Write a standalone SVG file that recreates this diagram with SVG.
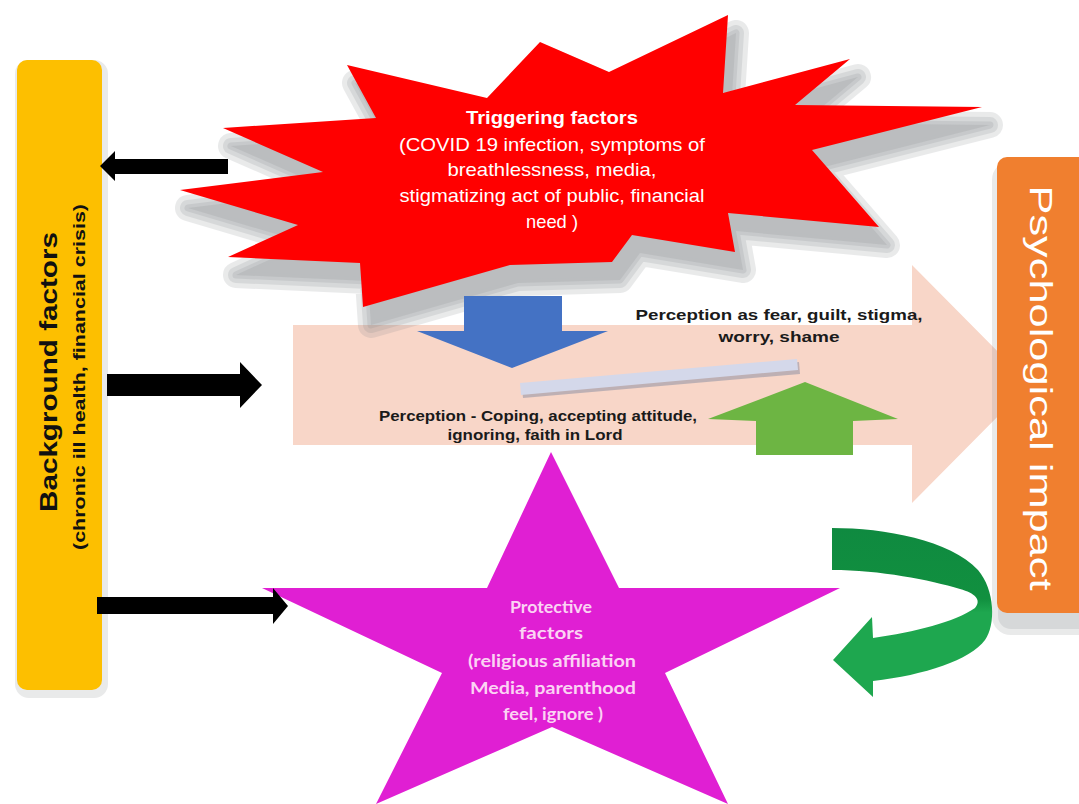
<svg xmlns="http://www.w3.org/2000/svg" width="1079" height="804" viewBox="0 0 1079 804">
<defs>
<style>
.arial{font-family:"Liberation Sans",Arial,sans-serif}
.white{fill:#ffffff}
.bk{fill:#000000}
.pt{font-family:"Liberation Sans",Arial,sans-serif;font-weight:bold;font-size:15px;fill:#1a1a1a;text-anchor:middle}
.st{font-family:"Liberation Sans",Arial,sans-serif;font-size:19px;fill:#ffffff;text-anchor:middle}
.mg{font-family:Lato,"Open Sans",sans-serif;font-weight:bold;font-size:17px;fill:#fbd3f3;text-anchor:middle}
.sh{fill:#7b8085;stroke:#7b8085;stroke-linejoin:round;opacity:0.16}
</style>
<linearGradient id="curl" x1="0" y1="528" x2="0" y2="697" gradientUnits="userSpaceOnUse">
<stop offset="0" stop-color="#0f8a40"/>
<stop offset="0.42" stop-color="#11903f"/>
<stop offset="0.5" stop-color="#1ea74f"/>
<stop offset="1" stop-color="#1ea74f"/>
</linearGradient>
<polygon id="burst" points="728,15 723,93 850,59 795,105 982,107 812,150 879,227 728,213 735,252 632,235 612,262 510,265 363,307 360,263 228,257 298,225 180,190 323,172 223,128 376,118 347,65 487,98 540,42 609,72"/>
</defs>
<rect width="1079" height="804" fill="#ffffff"/>

<g id="perception-arrow">
<polygon points="293,325 912,325 912,265 1030,384 912,503 912,445 293,445" fill="#f8d6c8"/>
</g>

<g id="background-factors">
<rect x="19" y="64" width="85" height="630" rx="10" class="sh" stroke-width="8"/>
<rect x="17" y="60" width="85" height="630" rx="10" fill="#fdbf00"/>
<text class="arial" font-weight="bold" font-size="23" fill="#111" text-anchor="middle" transform="translate(57,372) rotate(-90)" textLength="280" lengthAdjust="spacingAndGlyphs">Background factors</text>
<text class="arial" font-weight="bold" font-size="17" fill="#111" text-anchor="middle" transform="translate(85,377) rotate(-90)" textLength="346" lengthAdjust="spacingAndGlyphs">(chronic ill health, financial crisis)</text>
</g>

<g id="triggering-factors">
<use href="#burst" transform="translate(8,18)" class="sh" stroke-width="26"/>
<use href="#burst" transform="translate(8,18)" class="sh" stroke-width="16"/>
<use href="#burst" transform="translate(8,18)" class="sh" stroke-width="7"/>
<use href="#burst" transform="translate(8,18)" class="sh" stroke-width="0"/>
<use href="#burst" fill="#ff0000"/>
<text class="st" font-weight="bold" font-size="18" x="552" y="124" textLength="172" lengthAdjust="spacingAndGlyphs">Triggering factors</text>
<text class="st" x="552" y="151" textLength="306" lengthAdjust="spacingAndGlyphs">(COVID 19 infection, symptoms of</text>
<text class="st" x="552" y="176" textLength="209" lengthAdjust="spacingAndGlyphs">breathlessness, media,</text>
<text class="st" x="552" y="202" textLength="305" lengthAdjust="spacingAndGlyphs">stigmatizing act of public, financial</text>
<text class="st" x="552" y="228" textLength="52" lengthAdjust="spacingAndGlyphs">need )</text>
</g>

<g id="negative-perception">
<polygon points="464,296 562,296 562,331 608,331 512,368 417,331 464,331" fill="#4472c4"/>
<text class="pt" x="779" y="320" textLength="287" lengthAdjust="spacingAndGlyphs">Perception as fear, guilt, stigma,</text>
<text class="pt" x="779" y="342" textLength="121" lengthAdjust="spacingAndGlyphs">worry, shame</text>
</g>

<g id="balance-bar">
<polygon points="522,386 799,362 800,374 523,398" fill="#8e92a4" opacity="0.55"/>
<polygon points="520,383 797,359 798,370 521,395" fill="#d4d8ea"/>
</g>

<g id="positive-perception">
<polygon points="805,382 898,419 853,421 853,455 756,455 756,421 708,419" fill="#6db543"/>
<text class="pt" x="538" y="421" textLength="318" lengthAdjust="spacingAndGlyphs">Perception - Coping, accepting attitude,</text>
<text class="pt" x="535" y="440" textLength="175" lengthAdjust="spacingAndGlyphs">ignoring, faith in Lord</text>
</g>

<g id="protective-factors">
<polygon points="551,452 619,588 840,588 665,673 728,804 552,727 376,804 442,673 262,588 487,588" fill="#e01fd3"/>
<text class="mg" x="551" y="613" textLength="82" lengthAdjust="spacingAndGlyphs">Protective</text>
<text class="mg" x="551" y="639" textLength="64" lengthAdjust="spacingAndGlyphs">factors</text>
<text class="mg" x="552" y="667" textLength="168" lengthAdjust="spacingAndGlyphs">(religious affiliation</text>
<text class="mg" x="553" y="694" textLength="166" lengthAdjust="spacingAndGlyphs">Media, parenthood</text>
<text class="mg" x="553" y="720" textLength="100" lengthAdjust="spacingAndGlyphs">feel, ignore )</text>
</g>

<g id="psychological-impact">
<rect x="1001" y="170" width="100" height="456" rx="10" class="sh" stroke-width="18"/>
<rect x="1001" y="170" width="100" height="456" rx="10" class="sh" stroke-width="6"/>
<rect x="997" y="157" width="100" height="456" rx="10" fill="#f07f2f"/>
<text class="arial white" font-size="32" text-anchor="middle" transform="translate(1030,388) rotate(90)" textLength="405" lengthAdjust="spacingAndGlyphs">Psychological impact</text>
</g>

<g id="connectors">
<polygon class="bk" points="228,159 115,159 115,151 100,166 115,181 115,174 228,174"/>
<polygon class="bk" points="107,374 240,374 240,362 262,385 240,408 240,396 107,396"/>
<polygon class="bk" points="97,597 273,597 273,588 288,606 273,624 273,614 97,614"/>
<path fill="url(#curl)" d="M832,528 C885,528 950,540 978,570 C995,590 996,625 985,640 C970,660 925,675 873,681 L873,697 L833,660 L872,617 L873,638 C915,632 955,622 975,608 C982,600 975,593 960,589 C930,580 880,570 832,570 Z"/>
</g>
</svg>
